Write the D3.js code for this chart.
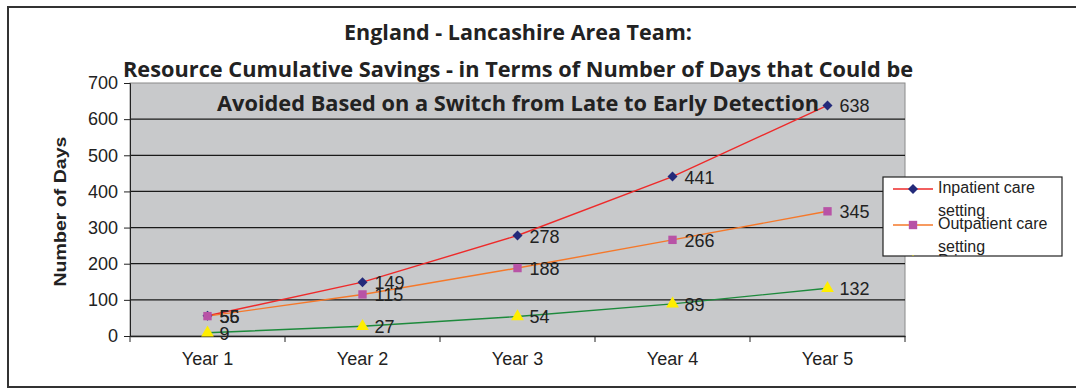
<!DOCTYPE html>
<html><head><meta charset="utf-8">
<script src="https://cdn.jsdelivr.net/npm/d3@7"></script>
<style>
html,body{margin:0;padding:0;background:#fff;}
svg{display:block;}
</style></head>
<body>
<svg id="c" width="1076" height="391"></svg>
<script>
const categories = ["Year 1","Year 2","Year 3","Year 4","Year 5"];
const seriesNames = ["Inpatient care setting","Outpatient care setting","Primary care setting"];
const inpatient = [56, 149, 278, 441, 638];
const outpatient = [55, 115, 188, 266, 345];
const primary = [9, 27, 54, 89, 132];
const yTicks = [0,100,200,300,400,500,600,700];
const titleLines = ["England - Lancashire Area Team:",
  "Resource Cumulative Savings - in Terms of Number of Days that Could be",
  "Avoided Based on a Switch from Late to Early Detection"];
const yTitle = "Number of Days";

const ARIAL = "'Liberation Sans',Arial,sans-serif";
const svg = d3.select("#c").style("font-family", ARIAL);
const M = {l:130, r:905, t:83, b:336};

svg.append("rect").attr("x",8).attr("y",7).attr("width",1090).attr("height",380)
  .attr("fill","#fff").attr("stroke","#333").attr("stroke-width",2);

const x = d3.scaleBand().domain(categories).range([M.l, M.r]);
const y = d3.scaleLinear().domain([0,700]).range([M.b, M.t]);

svg.append("rect").attr("x",M.l).attr("y",M.t).attr("width",M.r-M.l).attr("height",M.b-M.t)
  .attr("fill","#c8c9cb").attr("stroke","#8a8a8a").attr("stroke-width",1);

svg.append("g").selectAll("line").data(yTicks.filter(d=>d>0 && d<700)).join("line")
  .attr("x1",M.l).attr("x2",M.r).attr("y1",d=>y(d)).attr("y2",d=>y(d))
  .attr("stroke","#1a1a1a").attr("stroke-width",1.3);

const yAxis = svg.append("g").attr("transform",`translate(${M.l},0)`)
  .call(d3.axisLeft(y).tickValues(yTicks).tickSize(6).tickPadding(6));
yAxis.select(".domain").attr("stroke","#222");
yAxis.selectAll(".tick line").attr("stroke","#222");
yAxis.selectAll("text").style("font-size","18px").style("font-family",ARIAL).attr("fill","#222");

const xAxis = svg.append("g").attr("transform",`translate(0,${M.b})`)
  .call(d3.axisBottom(x).tickSize(0).tickPadding(16));
xAxis.select(".domain").attr("stroke","#222").attr("stroke-width",1.3);
xAxis.selectAll("text").style("font-size","18px").style("font-family",ARIAL).attr("fill","#222");
const bounds = d3.range(categories.length+1).map(i=>M.l + i*x.step());
svg.append("g").selectAll("line").data(bounds).join("line")
  .attr("x1",d=>d).attr("x2",d=>d).attr("y1",M.b).attr("y2",M.b+6).attr("stroke","#222");

svg.append("text").attr("transform",`translate(66,${(M.t+M.b)/2+2}) rotate(-90)`)
  .attr("text-anchor","middle").style("font-size","17px").style("font-weight","bold")
  .attr("fill","#222")
  .attr("textLength",150).attr("lengthAdjust","spacingAndGlyphs").text(yTitle);

const cx = d => x(d) + x.bandwidth()/2;
const series = [
  {vals:inpatient, line:"#ee2a2a", mark:"#232a7a", shape:d3.symbolSquare, size:50, rot:45},
  {vals:outpatient, line:"#f5782a", mark:"#b853a6", shape:d3.symbolSquare, size:70, rot:0},
  {vals:primary, line:"#1d8a3c", mark:"#ffee00", shape:d3.symbolTriangle, size:70, rot:0}
];
const lineGen = d3.line().x((d,i)=>cx(categories[i])).y(d=>y(d));
series.forEach(s=>{
  svg.append("path").attr("d",lineGen(s.vals)).attr("fill","none")
    .attr("stroke",s.line).attr("stroke-width",1.4);
});
series.forEach(s=>{
  svg.append("g").selectAll("path").data(s.vals).join("path")
    .attr("d",d3.symbol().type(s.shape).size(s.size))
    .attr("transform",(d,i)=>`translate(${cx(categories[i])},${y(d)}) rotate(${s.rot})`)
    .attr("fill",s.mark);
});
series.forEach(s=>{
  svg.append("g").selectAll("text").data(s.vals).join("text")
    .attr("x",(d,i)=>cx(categories[i])+12).attr("y",d=>y(d)+7)
    .style("font-size","18px").attr("fill","#222").text(d=>d);
});

const tY = [40, 77, 111], tW = [348, 790, 602];
titleLines.forEach((t,i)=>{
  svg.append("text").attr("x",518).attr("y",tY[i]).attr("text-anchor","middle")
    .style("font-family","'Open Sans',Lato,sans-serif").style("font-weight","bold")
    .style("font-size","21px").attr("fill","#222")
    .attr("textLength",tW[i]).attr("lengthAdjust","spacingAndGlyphs").text(t);
});

const L = {x:883, y:177, w:179, h:79};
svg.append("defs").append("clipPath").attr("id","lc").append("rect")
  .attr("x",L.x).attr("y",L.y).attr("width",L.w).attr("height",L.h);
svg.append("rect").attr("x",L.x).attr("y",L.y).attr("width",L.w).attr("height",L.h)
  .attr("fill","#fff").attr("stroke","#222").attr("stroke-width",1.2);
const lg = svg.append("g").attr("clip-path","url(#lc)");
series.forEach((s,i)=>{
  const yy = L.y + 12 + i*36 + (i===2 ? 1 : 0);
  lg.append("line").attr("x1",L.x+10).attr("x2",L.x+50).attr("y1",yy).attr("y2",yy)
    .attr("stroke",s.line).attr("stroke-width",1.4);
  lg.append("path").attr("d",d3.symbol().type(s.shape).size(s.size)())
    .attr("transform",`translate(${L.x+30},${yy}) rotate(${s.rot})`).attr("fill",s.mark);
  const words = seriesNames[i].split(" ");
  const l1 = words.slice(0,2).join(" "), l2 = words.slice(2).join(" ");
  lg.append("text").attr("x",L.x+55).attr("y",yy+4).style("font-size","16px").attr("fill","#222").text(l1);
  lg.append("text").attr("x",L.x+55).attr("y",yy+27).style("font-size","16px").attr("fill","#222").text(l2);
});
</script>
</body></html>
